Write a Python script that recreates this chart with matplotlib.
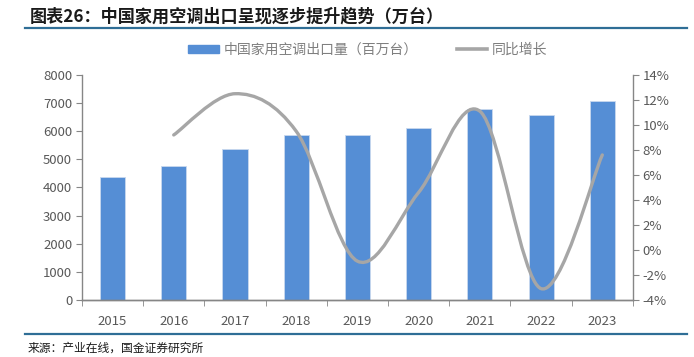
import numpy as np
import matplotlib
matplotlib.use('Agg')
import matplotlib.pyplot as plt
from matplotlib.path import Path
from matplotlib.patches import PathPatch
from matplotlib.lines import Line2D
from matplotlib.ticker import FuncFormatter

plt.rcParams['font.family'] = ['Noto Sans CJK SC', 'DejaVu Sans']

years = ['2015', '2016', '2017', '2018', '2019', '2020', '2021', '2022', '2023']
exports = [4380, 4760, 5380, 5880, 5850, 6100, 6790, 6580, 7070]
growth_years = ['2016', '2017', '2018', '2019', '2020', '2021', '2022', '2023']
growth = [9.2, 12.5, 9.5, -0.9, 4.6, 11.1, -3.1, 7.6]

bar_color = '#558ED5'
line_color = '#A6A6A6'
tick_color = '#595959'
axis_color = '#868686'

fig = plt.figure(figsize=(6.94, 3.57), dpi=100)
ax = fig.add_axes([0.118, 0.16, 0.794, 0.63])
ax2 = ax.twinx()

x = np.arange(len(years))
ax.bar(x, exports, width=0.41, color=bar_color, edgecolor='#C9D8EE', linewidth=0.6, zorder=2)
ax.set_xlim(-0.5, len(years) - 0.5)
ax.set_ylim(0, 8000)
ax.set_yticks(range(0, 8001, 1000))
ax.set_xticks(x)
ax.set_xticklabels(years)
ax.set_xticks(np.arange(-0.5, len(years), 1), minor=True)
ax.tick_params(axis='x', which='major', length=0, pad=11, labelsize=9.5, labelcolor=tick_color)
ax.tick_params(axis='x', which='minor', length=4, color=axis_color, direction='out')
ax.tick_params(axis='y', length=4, color=axis_color, labelsize=9.5, labelcolor=tick_color, pad=3)

# smoothed growth line (Excel-style bezier through the data points)
gx = np.array([years.index(y) for y in growth_years], dtype=float)
gy = np.array(growth, dtype=float)
pts = np.column_stack([gx, gy])
verts = [pts[0]]
codes = [Path.MOVETO]
n = len(pts)
for i in range(n - 1):
    p0 = pts[i - 1] if i > 0 else pts[i]
    p1 = pts[i]
    p2 = pts[i + 1]
    p3 = pts[i + 2] if i + 2 < n else pts[i + 1]
    c1 = p1 + (p2 - p0) / 6.0
    c2 = p2 - (p3 - p1) / 6.0
    verts += [c1, c2, p2]
    codes += [Path.CURVE4] * 3
ax2.add_patch(PathPatch(Path(verts, codes), facecolor='none', edgecolor=line_color,
                        linewidth=2.4, capstyle='round', zorder=3))
ax2.set_ylim(-4, 14)
ax2.set_yticks(range(-4, 15, 2))
ax2.yaxis.set_major_formatter(FuncFormatter(lambda v, p: f'{int(v)}%'))
ax2.tick_params(axis='y', length=4, color=axis_color, labelsize=9.5, labelcolor=tick_color, pad=3)

for a in (ax, ax2):
    a.spines['top'].set_visible(False)
    for s in ('left', 'right', 'bottom'):
        a.spines[s].set_color(axis_color)
        a.spines[s].set_linewidth(1.0)
ax.spines['right'].set_visible(False)
ax2.spines['left'].set_visible(False)

handles = [plt.Rectangle((0, 0), 1, 1, color=bar_color),
           Line2D([0], [0], color=line_color, linewidth=2.6)]
fig.legend(handles, ['中国家用空调出口量（百万台）', '同比增长'],
           loc='center', bbox_to_anchor=(0.53, 0.86), ncol=2, frameon=False,
           fontsize=10, labelcolor='#7F7F7F', handlelength=2.2, handleheight=0.55,
           columnspacing=2.8, handletextpad=0.35)

fig.text(0.043, 0.955, '图表26：中国家用空调出口呈现逐步提升趋势（万台）', fontsize=12.3,
         fontweight='bold', style='italic', color='#1A1A1A', va='center', ha='left')
fig.add_artist(Line2D([0.036, 0.99], [1 - 27.5 / 357] * 2, color='#2F6E96', linewidth=1.6))
fig.add_artist(Line2D([0.036, 0.99], [1 - 333.5 / 357] * 2, color='#2F6E96', linewidth=1.6))
fig.text(0.04, 1 - 348 / 357, '来源：产业在线，国金证券研究所', fontsize=8.5,
         color='#1A1A1A', va='center', ha='left')

fig.savefig('out.png', dpi=100)
